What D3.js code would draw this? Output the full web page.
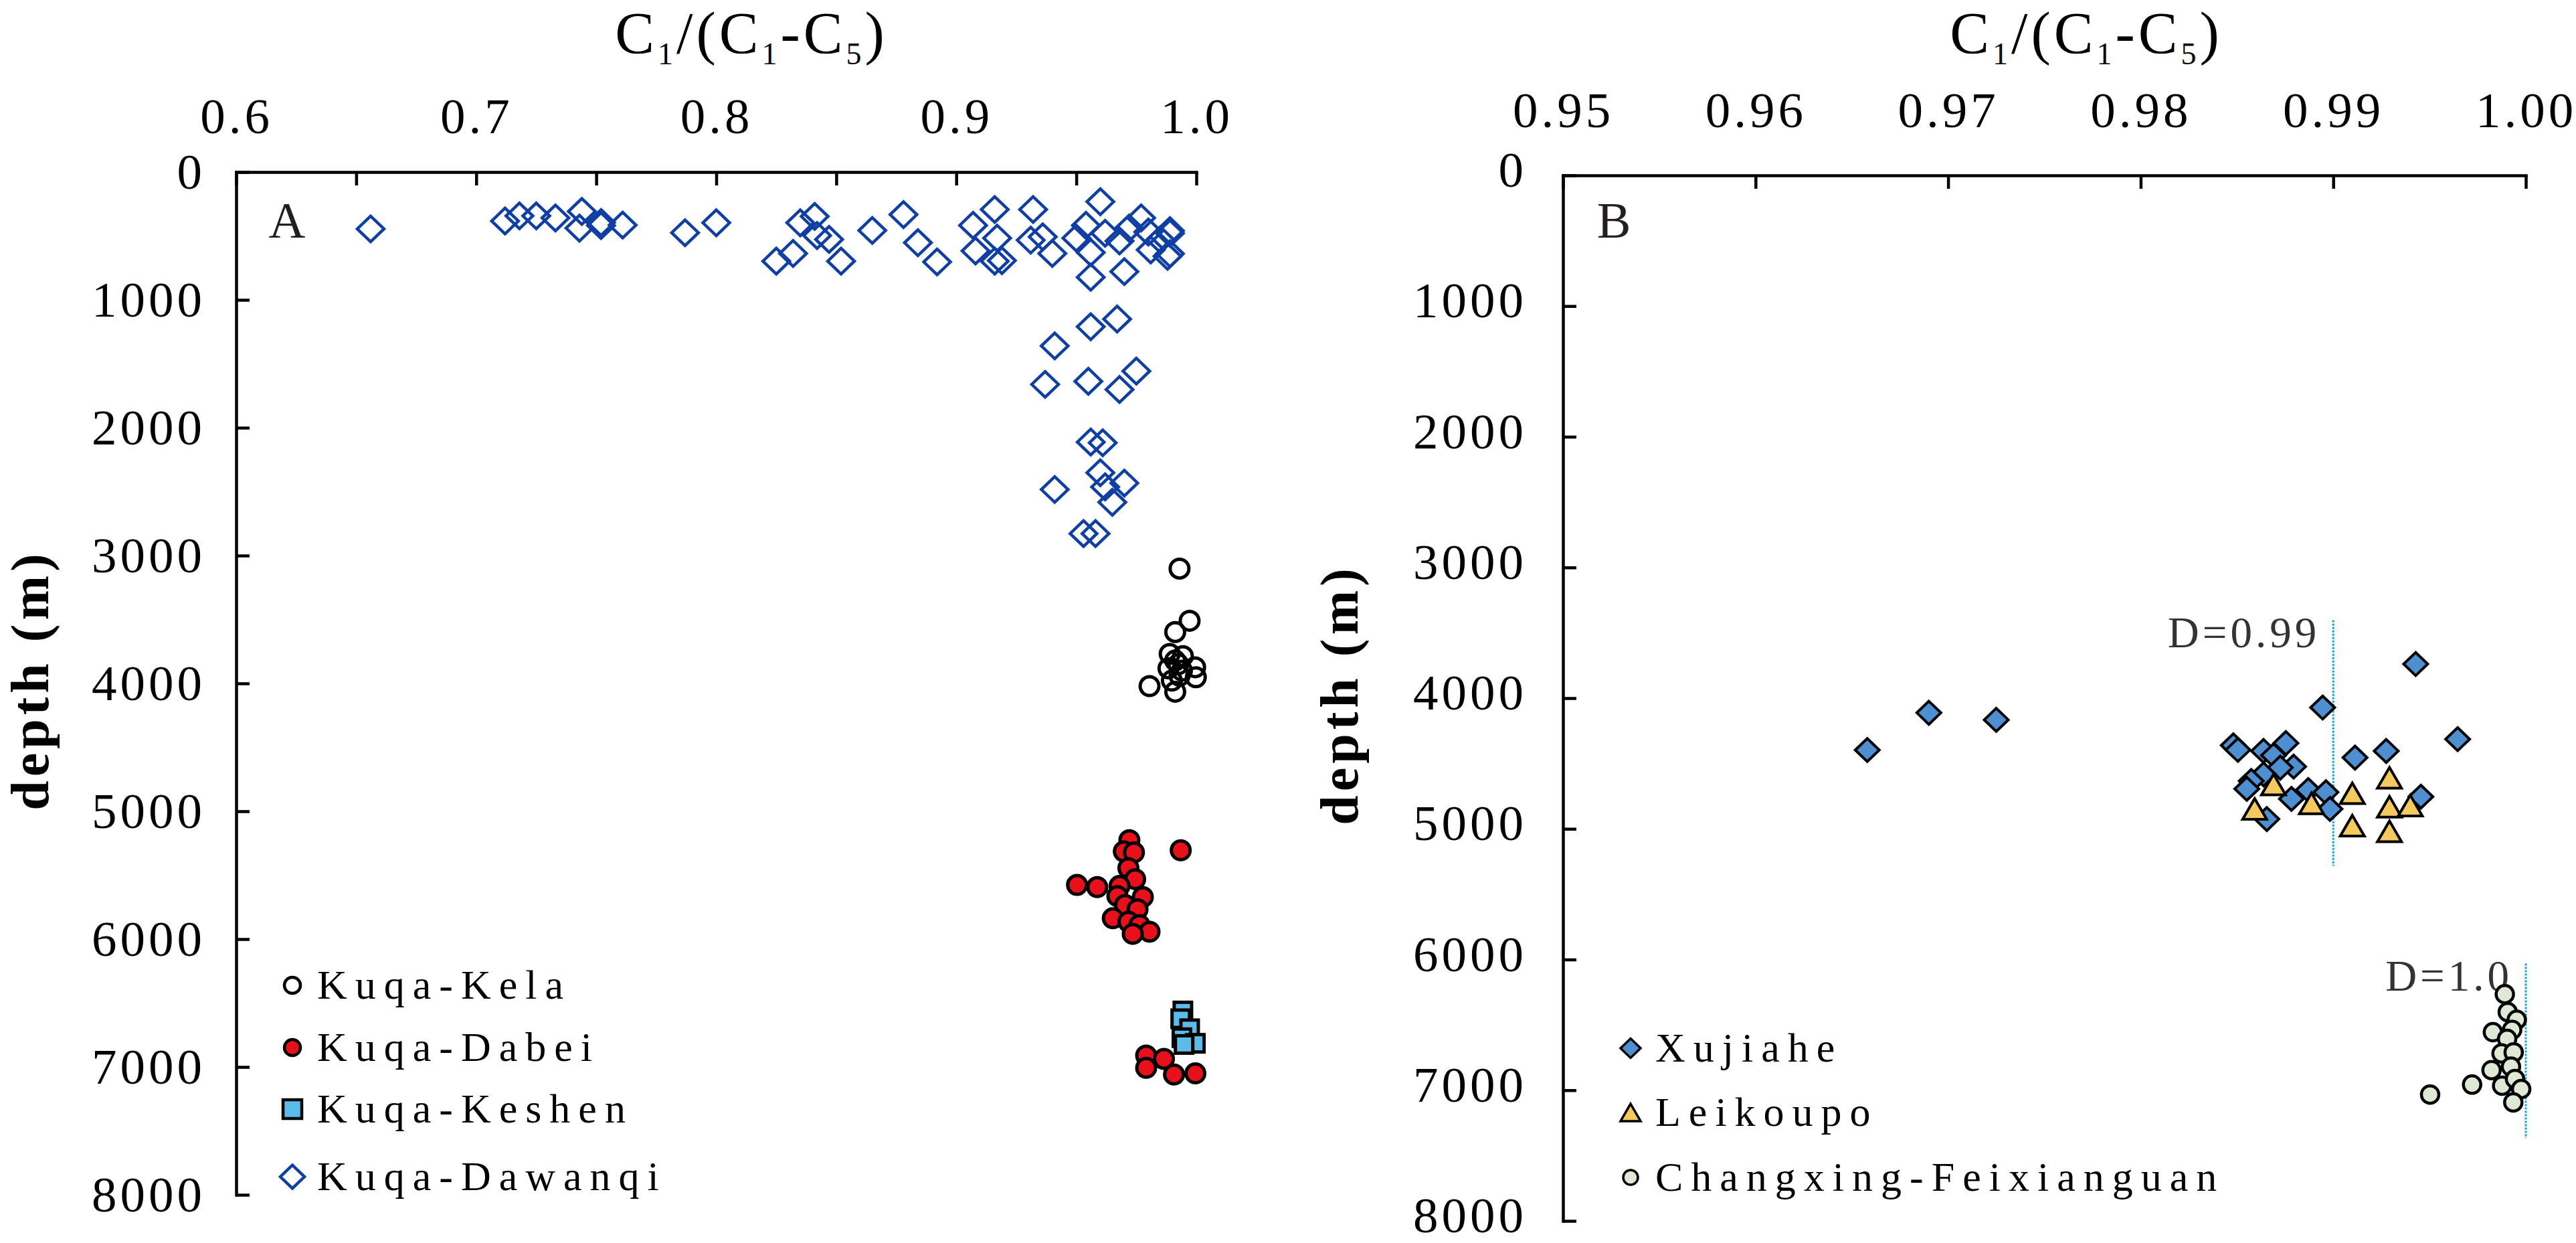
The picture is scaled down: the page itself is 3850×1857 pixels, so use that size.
<!DOCTYPE html>
<html>
<head>
<meta charset="utf-8">
<title>C1/(C1-C5) vs depth</title>
<script src="https://d3js.org/d3.v7.min.js"></script>
<style>
  body { margin: 0; background: #fff; }
  text { font-family: "Liberation Serif", "Times New Roman", serif; }
</style>
</head>
<body>
<svg id="chart" width="3850" height="1857"></svg>
<script>
// ---- data: [C1/(C1-C5), depth m] ----
var kela = [[0.9930,3102],[0.9972,3510],[0.9912,3598],[0.9889,3769],[0.9944,3786],[0.9912,3821],
  [0.9925,3850],[0.9884,3882],[0.9940,3900],[0.9995,3874],[0.9930,3940],[0.9998,3952],
  [0.9898,3978],[0.9912,4065],[0.9805,4021]];
var dabei = [[0.9721,5226],[0.9698,5314],[0.9740,5322],[0.9935,5305],[0.9717,5445],[0.9745,5531],
  [0.9503,5576],[0.9587,5593],[0.9680,5584],[0.9671,5663],[0.9777,5671],[0.9703,5733],
  [0.9755,5767],[0.9652,5837],[0.9717,5864],[0.9763,5890],[0.9805,5942],[0.9735,5959],
  [0.9791,6911],[0.9865,6937],[0.9791,7007],[0.9907,7059],[0.9996,7050]];
var keshen = [[0.9944,6562],[0.9935,6623],[0.9972,6701],[0.9940,6771],[0.9996,6815],[0.9949,6824]];
var dawanqi = [[0.656,445],[0.712,383],[0.718,343],[0.725,343],[0.733,359],[0.743,439],[0.744,308],
  [0.752,395],[0.752,419],[0.761,415],[0.787,475],[0.800,397],[0.835,397],[0.841,347],[0.842,497],
  [0.847,527],[0.825,697],[0.832,637],[0.852,697],[0.865,457],[0.878,333],[0.884,553],[0.892,703],
  [0.907,417],[0.916,293],[0.917,517],[0.908,617],[0.916,697],[0.919,693],[0.932,293],[0.931,533],
  [0.936,507],[0.940,637],[0.950,517],[0.954,417],[0.960,232],[0.956,629],[0.962,479],[0.968,539],
  [0.972,439],[0.977,359],[0.980,469],[0.981,609],[0.989,459],[0.989,479],[0.988,659],[0.989,639],
  [0.985,529],[0.956,823],[0.970,779],[0.967,1150],[0.956,1210],[0.941,1360],[0.975,1557],
  [0.937,1661],[0.955,1637],[0.968,1701],[0.956,2112],[0.961,2118],[0.960,2352],[0.970,2433],
  [0.941,2483],[0.962,2463],[0.965,2583],[0.953,2828],[0.958,2828]];

var xujiahe = [[0.99428,3739],[0.98945,4072],[0.99646,4314],[0.98481,4361],[0.98505,4396],
  [0.98638,4404],[0.98754,4344],[0.98690,4438],[0.98794,4524],[0.98725,4532],[0.99113,4455],
  [0.99275,4404],[0.98638,4583],[0.98574,4634],[0.98551,4694],[0.98783,4771],[0.98870,4703],
  [0.98962,4720],[0.98983,4848],[0.98655,4925],[0.99455,4754],
  [0.9658,4397],[0.9690,4112],[0.9725,4166]];
var leikoupo = [[0.98690,4661],[0.98592,4848],[0.98887,4805],[0.99099,4728],[0.99099,4976],
  [0.99292,4609],[0.99292,4831],[0.99292,5019],[0.99400,4822]];
var changxing = [[0.99891,6265],[0.99906,6402],[0.99953,6461],[0.99829,6556],[0.99929,6538],
  [0.99903,6607],[0.99874,6718],[0.99937,6710],[0.99822,6846],[0.99923,6820],[0.99721,6957],
  [0.99877,6965],[0.99944,6914],[0.99976,6991],[0.99935,7093],[0.99503,7033]];

// reference lines in panel B: [x, depth from, depth to, label]
var refLines = [[0.99, 3404, 5283, "D=0.99"], [1.0, 6031, 7366, "D=1.0"]];

var xTicksA = [0.6, 0.65, 0.7, 0.75, 0.8, 0.85, 0.9, 0.95, 1.0];
var xTicksB = [0.95, 0.96, 0.97, 0.98, 0.99, 1.00];
var depthTicks = [0, 1000, 2000, 3000, 4000, 5000, 6000, 7000, 8000];

var legendA = ["Kuqa-Kela", "Kuqa-Dabei", "Kuqa-Keshen", "Kuqa-Dawanqi"];
var legendB = ["Xujiahe", "Leikoupo", "Changxing-Feixianguan"];

// ---- drawing ----
var svg = d3.select("#chart");
var serif = '"Liberation Serif", "Times New Roman", serif';

function diamondPath(w, h) {
  return "M0," + (-h / 2) + "L" + (w / 2) + ",0L0," + (h / 2) + "L" + (-w / 2) + ",0Z";
}
function trianglePath(w, h) {
  return "M0," + (-h / 2) + "L" + (w / 2) + "," + (h / 2) + "L" + (-w / 2) + "," + (h / 2) + "Z";
}

// style: {shape, size, fill, stroke, sw}
function drawMarker(g, cx, cy, st) {
  if (st.shape == "circle") {
    g.append("circle").attr("cx", cx).attr("cy", cy).attr("r", st.size / 2)
      .attr("fill", st.fill).attr("stroke", st.stroke).attr("stroke-width", st.sw);
  } else if (st.shape == "square") {
    g.append("rect").attr("x", cx - st.size / 2).attr("y", cy - st.size / 2)
      .attr("width", st.size).attr("height", st.size)
      .attr("fill", st.fill).attr("stroke", st.stroke).attr("stroke-width", st.sw);
  } else {
    var d = st.shape == "diamond" ? diamondPath(st.size, st.size * 0.96) : trianglePath(st.size, st.size * 0.86);
    g.append("path").attr("d", d).attr("transform", "translate(" + cx + "," + cy + ")")
      .attr("fill", st.fill).attr("stroke", st.stroke).attr("stroke-width", st.sw)
      .attr("stroke-linejoin", "miter");
  }
}

function drawPanel(p) {
  var x = d3.scaleLinear().domain(p.xDomain).range([p.left, p.right]);
  var y = d3.scaleLinear().domain([0, 8000]).range([p.top, p.bottom]);
  var g = svg.append("g");

  var xAxis = d3.axisTop(x).tickValues(p.xTicks)
    .tickFormat(function (d, i) { return i % p.labelEvery == 0 ? d.toFixed(p.dec) : ""; })
    .tickSizeInner(-20).tickSizeOuter(0).tickPadding(p.xPad);
  var yAxis = d3.axisLeft(y).tickValues(depthTicks).tickFormat(d3.format("d"))
    .tickSizeInner(-20).tickSizeOuter(0).tickPadding(p.yPad);

  var gx = g.append("g").attr("transform", "translate(0," + p.top + ")").call(xAxis);
  var gy = g.append("g").attr("transform", "translate(" + p.left + ",0)").call(yAxis);
  [gx, gy].forEach(function (a) {
    a.attr("font-family", null).attr("font-size", null);
    a.selectAll("path, line").attr("stroke", "#000").attr("stroke-width", 4.5);
    a.select(".domain").attr("stroke-linecap", "square");
    a.selectAll("text").attr("font-size", 75).attr("fill", "#000")
      .attr("letter-spacing", 5).style("font-family", serif);
  });
  gy.selectAll("text").attr("dy", p.yDy);

  // x title with subscripts
  var t = g.append("text").attr("x", p.titleX).attr("y", 79).attr("text-anchor", "middle")
    .attr("font-size", 88).attr("letter-spacing", 5).attr("fill", "#000");
  var parts = [["C", 0], ["1", 1], ["/(C", 0], ["1", 1], ["-C", 0], ["5", 1], [")", 0]];
  var shifted = false;
  parts.forEach(function (pt) {
    var s = t.append("tspan").text(pt[0]);
    if (pt[1]) { s.attr("font-size", 46).attr("dy", 17); shifted = true; }
    else if (shifted) { s.attr("dy", -17); shifted = false; }
  });

  // y title (baseline at yTitleX after rotation)
  g.append("text").attr("transform", "translate(" + p.yTitleX + "," + ((p.top + p.bottom) / 2 - 5) + ") rotate(-90)")
    .attr("text-anchor", "middle").attr("font-size", 80).attr("letter-spacing", 6)
    .attr("font-weight", "bold").attr("fill", "#000")
    .text("depth (m)");

  // panel letter
  g.append("text").attr("x", p.left + 76).attr("y", 355).attr("text-anchor", "middle")
    .attr("font-size", 76).attr("fill", "#231f20").text(p.letter);

  // reference lines
  (p.refs || []).forEach(function (r) {
    g.append("line").attr("x1", x(r[0])).attr("x2", x(r[0])).attr("y1", y(r[1])).attr("y2", y(r[2]))
      .attr("stroke", "#1a9ad6").attr("stroke-width", 3).attr("stroke-dasharray", "3,2");
    g.append("text").attr("x", x(r[0]) - 20).attr("y", y(r[1]) + 40).attr("text-anchor", "end")
      .attr("font-size", 65).attr("letter-spacing", 5).attr("fill", "#333").text(r[3]);
  });

  // series
  p.series.forEach(function (s) {
    var gs = g.append("g");
    s.data.forEach(function (d) { drawMarker(gs, x(d[0]), y(d[1]), s.style); });
  });

  // legend
  p.series.forEach(function (s, i) {
    var ly = p.legendY[i];
    drawMarker(g, p.legendX, ly, s.legendStyle);
    g.append("text").attr("x", p.legendX + 37).attr("y", ly + 20)
      .attr("font-size", 62).attr("letter-spacing", 12).attr("fill", "#000").text(s.name);
  });
}

drawPanel({
  letter: "A", xDomain: [0.6, 1.0], xTicks: xTicksA, labelEvery: 2, dec: 1,
  left: 353, right: 1788, top: 257, bottom: 1785, xPad: 58, yPad: 46, yDy: "0.32em",
  titleX: 1123, yTitleX: 72,
  legendX: 437, legendY: [1472, 1565, 1657, 1758],
  series: [
    { name: legendA[0], data: kela,
      style: { shape: "circle", size: 28, fill: "none", stroke: "#000", sw: 5 },
      legendStyle: { shape: "circle", size: 24, fill: "#fff", stroke: "#000", sw: 4.5 } },
    { name: legendA[1], data: dabei,
      style: { shape: "circle", size: 28, fill: "#e8111b", stroke: "#000", sw: 5 },
      legendStyle: { shape: "circle", size: 24, fill: "#e8111b", stroke: "#000", sw: 4.5 } },
    { name: legendA[2], data: keshen,
      style: { shape: "square", size: 26, fill: "#5cbce9", stroke: "#000", sw: 5 },
      legendStyle: { shape: "square", size: 28, fill: "#5cbce9", stroke: "#000", sw: 4.5 } },
    { name: legendA[3], data: dawanqi,
      style: { shape: "diamond", size: 40, fill: "none", stroke: "#0f3fa3", sw: 4.5 },
      legendStyle: { shape: "diamond", size: 36, fill: "none", stroke: "#0f3fa3", sw: 4.5 } }
  ]
});

drawPanel({
  letter: "B", xDomain: [0.95, 1.0], xTicks: xTicksB, labelEvery: 1, dec: 2,
  left: 2336, right: 3775, top: 262, bottom: 1824, xPad: 72, yPad: 54, yDy: "0.22em",
  titleX: 3118, yTitleX: 2029,
  legendX: 2437, legendY: [1566, 1662, 1759],
  refs: refLines,
  series: [
    { name: legendB[0], data: xujiahe,
      style: { shape: "diamond", size: 36, fill: "#4d8fd1", stroke: "#000", sw: 4 },
      legendStyle: { shape: "diamond", size: 30, fill: "#4d8fd1", stroke: "#000", sw: 3.5 } },
    { name: legendB[1], data: leikoupo,
      style: { shape: "triangle", size: 36, fill: "#f6c95f", stroke: "#000", sw: 4 },
      legendStyle: { shape: "triangle", size: 30, fill: "#f6c95f", stroke: "#000", sw: 3.5 } },
    { name: legendB[2], data: changxing,
      style: { shape: "circle", size: 26, fill: "#dfe8d5", stroke: "#000", sw: 4.5 },
      legendStyle: { shape: "circle", size: 22, fill: "#dfe8d5", stroke: "#000", sw: 3.5 } }
  ]
});
</script>
</body>
</html>
